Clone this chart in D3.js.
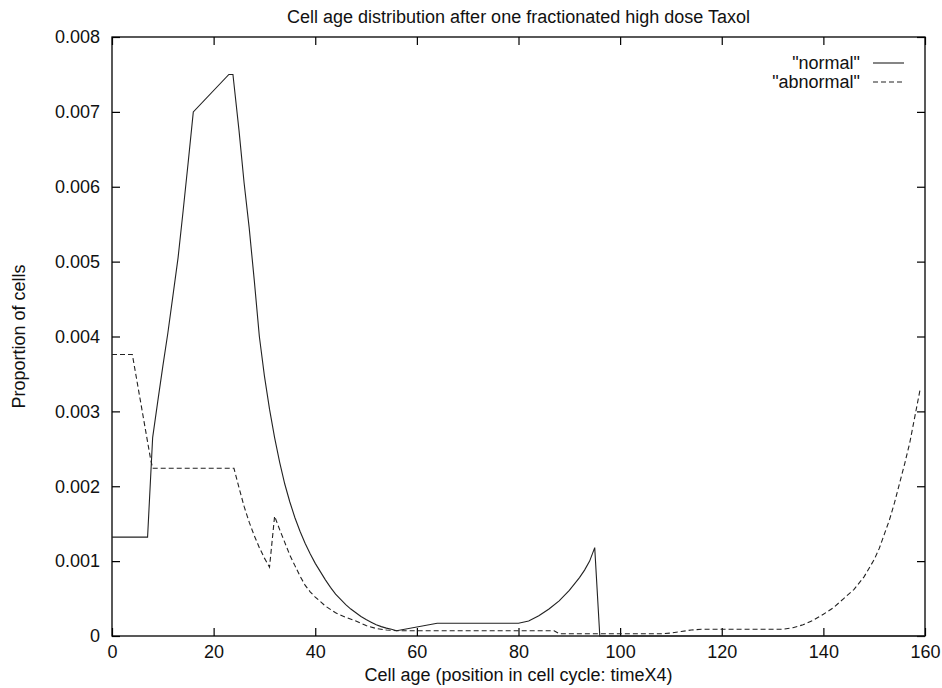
<!DOCTYPE html>
<html>
<head>
<meta charset="utf-8">
<script src="https://cdn.jsdelivr.net/npm/d3@7"></script>
<style>
  html, body { margin: 0; padding: 0; background: #fff; }
  svg { display: block; }
  text { font-family: "Liberation Sans", Arial, Helvetica, sans-serif; fill: #111; }
</style>
</head>
<body>
<svg id="chart" width="942" height="688"></svg>
<script>
// ---------------- data ----------------
const titleText = "Cell age distribution after one fractionated high dose Taxol";
const xLabelText = "Cell age (position in cell cycle: timeX4)";
const yLabelText = "Proportion of cells";
const seriesNames = ["\"normal\"", "\"abnormal\""];

const xTicks = [0, 20, 40, 60, 80, 100, 120, 140, 160];
const yTicks = [0, 0.001, 0.002, 0.003, 0.004, 0.005, 0.006, 0.007, 0.008];

const normalAge = [0, 7, 8, 9, 10, 11, 12, 13, 14, 15, 16, 23, 23.8, 25, 26, 27, 28, 29, 30,
  31, 32, 33, 34, 35, 36, 37, 38, 39, 40, 41, 42, 43, 44, 45, 46, 47, 48, 49, 50,
  51, 52, 53, 54, 55, 56, 64, 80, 82, 84, 86, 88, 90, 92, 93, 94, 95, 96, 160];
const normalValue = [0.00132, 0.00132, 0.00265, 0.00313, 0.0036, 0.00405, 0.00455, 0.00505, 0.00568, 0.00633, 0.0070, 0.0075, 0.0075, 0.00675, 0.00605, 0.00545, 0.00475, 0.0040, 0.00347,
  0.00303, 0.00265, 0.00232, 0.00203, 0.00179, 0.00158, 0.0014, 0.00124, 0.0011, 0.00097, 0.00086, 0.00075, 0.00065, 0.00056, 0.00049, 0.00042, 0.00036, 0.00031, 0.00026, 0.00022,
  0.000185, 0.00015, 0.000125, 0.000105, 0.00009, 0.00007, 0.00017, 0.00017, 0.0002, 0.00027, 0.00036, 0.00047, 0.00061, 0.00078, 0.00088, 0.0010, 0.00118, 0, 0];

const abnormalAge = [0, 4, 7.6, 8, 24, 25, 26, 27, 28, 29, 30, 31, 32, 33, 34, 35, 36, 37, 38, 39, 40,
  42, 44, 46, 48, 50, 52, 54, 56, 87, 88, 108, 110, 112, 114, 116, 132, 134, 136, 138, 140,
  142, 144, 146, 148, 150, 151, 152, 153, 154, 155, 156, 157, 158, 159];
const abnormalValue = [0.00376, 0.00376, 0.00236, 0.00224, 0.00224, 0.00198, 0.00173, 0.00152, 0.00134, 0.00118, 0.00104, 0.00092, 0.0016, 0.00142, 0.00125, 0.00108, 0.00094, 0.0008, 0.00068, 0.00059, 0.00052,
  0.0004, 0.00031, 0.00025, 0.0002, 0.00014, 0.0001, 0.00008, 0.00007, 0.00007, 0.00003, 0.00003, 0.00004, 0.00006, 0.00008, 0.00009, 0.00009, 0.00011, 0.00015, 0.00021, 0.00029,
  0.00038, 0.0005, 0.00062, 0.00079, 0.00102, 0.00117, 0.00136, 0.00155, 0.00178, 0.00204, 0.0023, 0.00258, 0.00293, 0.00328];

// ---------------- layout ----------------
const plotLeft = 112, plotRight = 925, plotTop = 37, plotBottom = 636;
const fontSize = 18;
const fontFamily = "'Liberation Sans', Arial, Helvetica, sans-serif";

const svg = d3.select("#chart");
const x = d3.scaleLinear().domain([0, 160]).range([plotLeft, plotRight]);
const y = d3.scaleLinear().domain([0, 0.008]).range([plotBottom, plotTop]);

const tickLen = 8;
const yFmt = d => d === 0 ? "0" : d3.format(".3f")(d);

// bottom axis (ticks inward)
const gx = svg.append("g").attr("transform", `translate(0,${plotBottom})`)
  .call(d3.axisBottom(x).tickValues(xTicks).tickSize(-tickLen).tickPadding(9).tickFormat(d3.format("d")));
// top axis mirror
const gxt = svg.append("g").attr("transform", `translate(0,${plotTop})`)
  .call(d3.axisTop(x).tickValues(xTicks).tickSize(-tickLen).tickFormat(""));
// left axis
const gy = svg.append("g").attr("transform", `translate(${plotLeft},0)`)
  .call(d3.axisLeft(y).tickValues(yTicks).tickSize(-tickLen).tickPadding(12).tickFormat(yFmt));
// right axis mirror
const gyr = svg.append("g").attr("transform", `translate(${plotRight},0)`)
  .call(d3.axisRight(y).tickValues(yTicks).tickSize(-tickLen).tickFormat(""));

[gx, gxt, gy, gyr].forEach(g => {
  g.select(".domain").remove();
  g.selectAll(".tick line").attr("stroke", "#000").attr("stroke-width", 1.2);
  g.selectAll("text").attr("font-size", fontSize).attr("fill", "#111")
    .attr("font-family", fontFamily);
});

// border
svg.append("rect").attr("x", plotLeft).attr("y", plotTop)
  .attr("width", plotRight - plotLeft).attr("height", plotBottom - plotTop)
  .attr("fill", "none").attr("stroke", "#000").attr("stroke-width", 1.3);

// lines
const line = d3.line().x(d => x(d[0])).y(d => y(d[1]));
const normalData = normalAge.map((a, i) => [a, normalValue[i]]);
const abnormalData = abnormalAge.map((a, i) => [a, abnormalValue[i]]);

svg.append("path").datum(normalData).attr("d", line)
  .attr("fill", "none").attr("stroke", "#222").attr("stroke-width", 1.1);
svg.append("path").datum(abnormalData).attr("d", line)
  .attr("fill", "none").attr("stroke", "#222").attr("stroke-width", 1.1)
  .attr("stroke-dasharray", "5,3");

// legend
const legY = [63, 82];
seriesNames.forEach((name, i) => {
  svg.append("text").attr("x", 860).attr("y", legY[i]).attr("dy", "0.35em")
    .attr("text-anchor", "end").attr("font-size", fontSize).attr("font-family", fontFamily).text(name);
  svg.append("line").attr("x1", 873).attr("x2", 904).attr("y1", legY[i]).attr("y2", legY[i])
    .attr("stroke", "#222").attr("stroke-width", 1.1)
    .attr("stroke-dasharray", i === 1 ? "5,3" : null);
});

// title and axis labels
svg.append("text").attr("x", (plotLeft + plotRight) / 2).attr("y", 17).attr("dy", "0.35em")
  .attr("text-anchor", "middle").attr("font-size", fontSize).attr("font-family", fontFamily).text(titleText);
svg.append("text").attr("x", (plotLeft + plotRight) / 2).attr("y", 675).attr("dy", "0.35em")
  .attr("text-anchor", "middle").attr("font-size", fontSize).attr("font-family", fontFamily).text(xLabelText);
svg.append("text").attr("transform", `translate(19,${(plotTop + plotBottom) / 2}) rotate(-90)`)
  .attr("dy", "0.35em").attr("text-anchor", "middle").attr("font-size", fontSize).attr("font-family", fontFamily).text(yLabelText);
</script>
</body>
</html>
